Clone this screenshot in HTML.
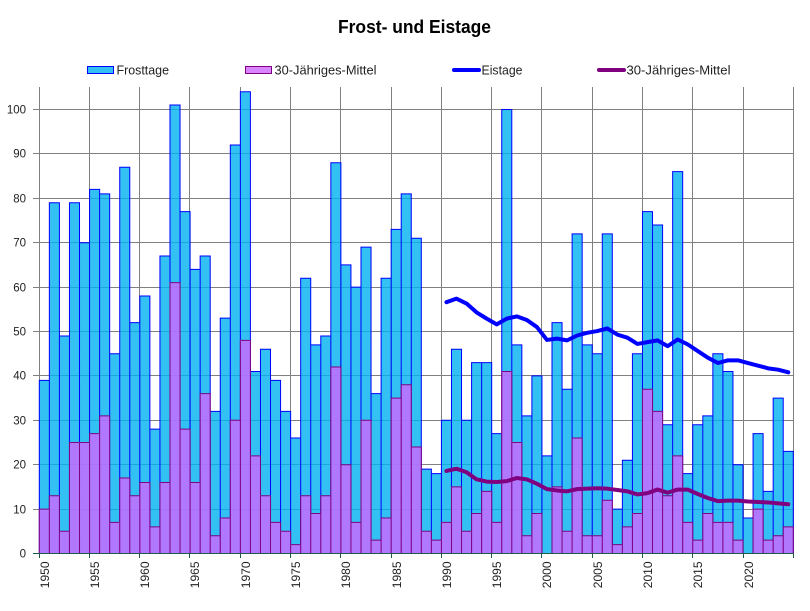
<!DOCTYPE html>
<html>
<head>
<meta charset="utf-8">
<style>
html,body{margin:0;padding:0;background:#fff;}
svg{display:block;}
text{font-family:"Liberation Sans",sans-serif;fill:#222;}
</style>
</head>
<body>
<svg width="810" height="611" viewBox="0 0 810 611" xmlns="http://www.w3.org/2000/svg">
<rect x="0" y="0" width="810" height="611" fill="#fff"/>
<text x="338" y="33" font-size="18" font-weight="bold" textLength="153" lengthAdjust="spacingAndGlyphs" style="fill:#000">Frost- und Eistage</text>
<rect x="87.5" y="66.5" width="26" height="7" fill="#00b0f0" fill-opacity="0.8" stroke="#0000ff"/>
<text x="116.5" y="74.5" font-size="13" textLength="52.5" lengthAdjust="spacingAndGlyphs">Frosttage</text>
<rect x="245.5" y="66.5" width="26" height="7" fill="#cf66ff" fill-opacity="0.8" stroke="#800080"/>
<text x="274.5" y="74.5" font-size="13" textLength="102" lengthAdjust="spacingAndGlyphs">30-Jähriges-Mittel</text>
<line x1="454" y1="70" x2="479" y2="70" stroke="#0000ff" stroke-width="4" stroke-linecap="round"/>
<text x="481.5" y="74.5" font-size="13" textLength="41" lengthAdjust="spacingAndGlyphs">Eistage</text>
<line x1="599" y1="70" x2="624" y2="70" stroke="#800080" stroke-width="4" stroke-linecap="round"/>
<text x="626.5" y="74.5" font-size="13" textLength="104" lengthAdjust="spacingAndGlyphs">30-Jähriges-Mittel</text>
<path stroke="#808080" stroke-width="1" fill="none" d="M33 509.5H793.5M33 464.5H793.5M33 420.5H793.5M33 375.5H793.5M33 331.5H793.5M33 287.5H793.5M33 242.5H793.5M33 198.5H793.5M33 153.5H793.5M33 109.5H793.5M39.5 87V553M89.5 87V553M139.5 87V553M189.5 87V553M240.5 87V553M290.5 87V553M340.5 87V553M391.5 87V553M441.5 87V553M491.5 87V553M541.5 87V553M592.5 87V553M642.5 87V553M692.5 87V553M743.5 87V553M793.5 87V553"/>
<g transform="translate(39.3,553.5) scale(10.053,-4.44)">
<path vector-effect="non-scaling-stroke" fill="#00b0f0" fill-opacity="0.8" stroke="#0000ff" stroke-width="1" d="M0 0h1v39h-1zM1 0h1v79h-1zM2 0h1v49h-1zM3 0h1v79h-1zM4 0h1v70h-1zM5 0h1v82h-1zM6 0h1v81h-1zM7 0h1v45h-1zM8 0h1v87h-1zM9 0h1v52h-1zM10 0h1v58h-1zM11 0h1v28h-1zM12 0h1v67h-1zM13 0h1v101h-1zM14 0h1v77h-1zM15 0h1v64h-1zM16 0h1v67h-1zM17 0h1v32h-1zM18 0h1v53h-1zM19 0h1v92h-1zM20 0h1v104h-1zM21 0h1v41h-1zM22 0h1v46h-1zM23 0h1v39h-1zM24 0h1v32h-1zM25 0h1v26h-1zM26 0h1v62h-1zM27 0h1v47h-1zM28 0h1v49h-1zM29 0h1v88h-1zM30 0h1v65h-1zM31 0h1v60h-1zM32 0h1v69h-1zM33 0h1v36h-1zM34 0h1v62h-1zM35 0h1v73h-1zM36 0h1v81h-1zM37 0h1v71h-1zM38 0h1v19h-1zM39 0h1v18h-1zM40 0h1v30h-1zM41 0h1v46h-1zM42 0h1v30h-1zM43 0h1v43h-1zM44 0h1v43h-1zM45 0h1v27h-1zM46 0h1v100h-1zM47 0h1v47h-1zM48 0h1v31h-1zM49 0h1v40h-1zM50 0h1v22h-1zM51 0h1v52h-1zM52 0h1v37h-1zM53 0h1v72h-1zM54 0h1v47h-1zM55 0h1v45h-1zM56 0h1v72h-1zM57 0h1v10h-1zM58 0h1v21h-1zM59 0h1v45h-1zM60 0h1v77h-1zM61 0h1v74h-1zM62 0h1v29h-1zM63 0h1v86h-1zM64 0h1v18h-1zM65 0h1v29h-1zM66 0h1v31h-1zM67 0h1v45h-1zM68 0h1v41h-1zM69 0h1v20h-1zM70 0h1v8h-1zM71 0h1v27h-1zM72 0h1v14h-1zM73 0h1v35h-1zM74 0h1v23h-1z"/>
<path vector-effect="non-scaling-stroke" fill="#cf66ff" fill-opacity="0.8" stroke="#800080" stroke-width="1" d="M0 0h1v10h-1zM1 0h1v13h-1zM2 0h1v5h-1zM3 0h1v25h-1zM4 0h1v25h-1zM5 0h1v27h-1zM6 0h1v31h-1zM7 0h1v7h-1zM8 0h1v17h-1zM9 0h1v13h-1zM10 0h1v16h-1zM11 0h1v6h-1zM12 0h1v16h-1zM13 0h1v61h-1zM14 0h1v28h-1zM15 0h1v16h-1zM16 0h1v36h-1zM17 0h1v4h-1zM18 0h1v8h-1zM19 0h1v30h-1zM20 0h1v48h-1zM21 0h1v22h-1zM22 0h1v13h-1zM23 0h1v7h-1zM24 0h1v5h-1zM25 0h1v2h-1zM26 0h1v13h-1zM27 0h1v9h-1zM28 0h1v13h-1zM29 0h1v42h-1zM30 0h1v20h-1zM31 0h1v7h-1zM32 0h1v30h-1zM33 0h1v3h-1zM34 0h1v8h-1zM35 0h1v35h-1zM36 0h1v38h-1zM37 0h1v24h-1zM38 0h1v5h-1zM39 0h1v3h-1zM40 0h1v7h-1zM41 0h1v15h-1zM42 0h1v5h-1zM43 0h1v9h-1zM44 0h1v14h-1zM45 0h1v7h-1zM46 0h1v41h-1zM47 0h1v25h-1zM48 0h1v4h-1zM49 0h1v9h-1zM51 0h1v15h-1zM52 0h1v5h-1zM53 0h1v26h-1zM54 0h1v4h-1zM55 0h1v4h-1zM56 0h1v12h-1zM57 0h1v2h-1zM58 0h1v6h-1zM59 0h1v9h-1zM60 0h1v37h-1zM61 0h1v32h-1zM62 0h1v13h-1zM63 0h1v22h-1zM64 0h1v7h-1zM65 0h1v3h-1zM66 0h1v9h-1zM67 0h1v7h-1zM68 0h1v7h-1zM69 0h1v3h-1zM71 0h1v10h-1zM72 0h1v3h-1zM73 0h1v4h-1zM74 0h1v6h-1z"/>
<polyline vector-effect="non-scaling-stroke" fill="none" stroke="#0000ff" stroke-width="4" stroke-linecap="round" stroke-linejoin="round" points="40.5,56.6 41.5,57.4 42.5,56.3 43.5,54.3 44.5,52.9 45.5,51.6 46.5,52.9 47.5,53.4 48.5,52.6 49.5,51.0 50.5,48.1 51.5,48.4 52.5,48.0 53.5,49.1 54.5,49.7 55.5,50.1 56.5,50.7 57.5,49.3 58.5,48.6 59.5,47.2 60.5,47.6 61.5,48.0 62.5,46.7 63.5,48.2 64.5,47.1 65.5,45.6 66.5,44.1 67.5,42.9 68.5,43.5 69.5,43.5 70.5,42.9 71.5,42.3 72.5,41.7 73.5,41.4 74.5,40.8"/>
<polyline vector-effect="non-scaling-stroke" fill="none" stroke="#800080" stroke-width="4" stroke-linecap="round" stroke-linejoin="round" points="40.5,18.6 41.5,19.1 42.5,18.3 43.5,16.7 44.5,16.2 45.5,16.1 46.5,16.3 47.5,17.0 48.5,16.7 49.5,15.7 50.5,14.5 51.5,14.2 52.5,14.0 53.5,14.5 54.5,14.6 55.5,14.7 56.5,14.6 57.5,14.3 58.5,14.0 59.5,13.3 60.5,13.6 61.5,14.4 62.5,13.7 63.5,14.4 64.5,14.4 65.5,13.4 66.5,12.5 67.5,11.8 68.5,11.9 69.5,11.9 70.5,11.7 71.5,11.6 72.5,11.5 73.5,11.3 74.5,11.1"/>
</g>
<path stroke="#1f5c48" stroke-width="1" fill="none" d="M33 553.5H793.5M39.5 553V558M89.5 553V558M139.5 553V558M189.5 553V558M240.5 553V558M290.5 553V558M340.5 553V558M391.5 553V558M441.5 553V558M491.5 553V558M541.5 553V558M592.5 553V558M642.5 553V558M692.5 553V558M743.5 553V558M793.5 553V558"/>
<g font-size="11.5" text-anchor="end">
<text x="26" y="557.5">0</text>
<text x="26" y="513.5">10</text>
<text x="26" y="468.5">20</text>
<text x="26" y="424.5">30</text>
<text x="26" y="379.5">40</text>
<text x="26" y="335.5">50</text>
<text x="26" y="291.5">60</text>
<text x="26" y="246.5">70</text>
<text x="26" y="202.5">80</text>
<text x="26" y="157.5">90</text>
<text x="26" y="113.5">100</text>
</g>
<g font-size="12" text-anchor="end">
<text transform="translate(48.8,561.5) rotate(-90)">1950</text>
<text transform="translate(98.8,561.5) rotate(-90)">1955</text>
<text transform="translate(148.8,561.5) rotate(-90)">1960</text>
<text transform="translate(198.8,561.5) rotate(-90)">1965</text>
<text transform="translate(249.8,561.5) rotate(-90)">1970</text>
<text transform="translate(299.8,561.5) rotate(-90)">1975</text>
<text transform="translate(349.8,561.5) rotate(-90)">1980</text>
<text transform="translate(400.8,561.5) rotate(-90)">1985</text>
<text transform="translate(450.8,561.5) rotate(-90)">1990</text>
<text transform="translate(500.8,561.5) rotate(-90)">1995</text>
<text transform="translate(550.8,561.5) rotate(-90)">2000</text>
<text transform="translate(601.8,561.5) rotate(-90)">2005</text>
<text transform="translate(651.8,561.5) rotate(-90)">2010</text>
<text transform="translate(701.8,561.5) rotate(-90)">2015</text>
<text transform="translate(752.8,561.5) rotate(-90)">2020</text>
</g>
</svg>
</body>
</html>
